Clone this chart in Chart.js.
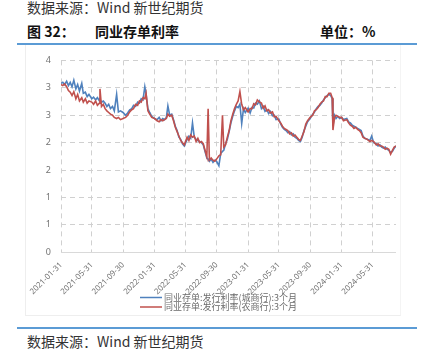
<!DOCTYPE html>
<html>
<head>
<meta charset="utf-8">
<script src="https://cdn.jsdelivr.net/npm/chart.js@4/dist/chart.umd.min.js"></script>
<style>
  html, body { margin: 0; padding: 0; background: #fff; }
  #wrap { position: relative; width: 422px; height: 359px; overflow: hidden; font-family: "Noto Sans CJK SC", sans-serif; }
  .t { position: absolute; white-space: nowrap; line-height: 1; }
  .src { font-size: 14px; color: #333; }
  .hd { font-size: 14px; font-weight: bold; color: #111; }
  .rule { position: absolute; left: 17px; width: 400px; height: 2px; background: #5b9bd5; }
  #frame { position: absolute; left: 25px; top: 45px; width: 376px; height: 271px; border-left: 1px solid #eeeeee; border-bottom: 1px solid #eeeeee; border-right: 1px solid #f4f4f4; box-sizing: border-box; }
  canvas { position: absolute; left: 0; top: 45px; }
</style>
</head>
<body>
<div id="wrap">
  <div class="t src" style="left:27px; top:0px;">数据来源：Wind 新世纪期货</div>
  <div class="t hd" style="left:27px; top:24px;">图 32：</div>
  <div class="t hd" style="left:95px; top:24px;">同业存单利率</div>
  <div class="t hd" style="left:320px; top:24px;">单位：%</div>
  <div class="rule" style="top:43px;"></div>
  <div id="frame"></div>
  <canvas id="c" width="422" height="272"></canvas>
  <div class="rule" style="top:327px;"></div>
  <div class="t src" style="left:27px; top:334px;">数据来源：Wind 新世纪期货</div>
</div>
<script>
// ---- data ----
const seriesNames = ['同业存单:发行利率(城商行):3个月', '同业存单:发行利率(农商行):3个月'];
const tickLabels = ['2021-01-31','2021-05-31','2021-09-30','2022-01-31','2022-05-31','2022-09-30','2023-01-31','2023-05-31','2023-09-30','2024-01-31','2024-05-31'];
const dates = [
'2021-01-31','2021-02-07','2021-02-14','2021-02-22','2021-03-01','2021-03-08','2021-03-15','2021-03-22','2021-03-30','2021-04-06','2021-04-13','2021-04-22','2021-04-28','2021-05-06','2021-05-13','2021-05-20','2021-05-31',
'2021-06-07','2021-06-15','2021-06-22','2021-06-30','2021-07-02','2021-07-08','2021-07-15','2021-07-22','2021-07-29','2021-08-05','2021-08-12','2021-08-20','2021-08-27','2021-09-05','2021-09-12','2021-09-20','2021-09-30',
'2021-10-10','2021-10-18','2021-10-26','2021-11-03','2021-11-10','2021-11-18','2021-11-26','2021-12-03','2021-12-10','2021-12-17','2021-12-24','2021-12-29',
'2022-01-05','2022-01-12','2022-01-20','2022-01-31','2022-02-10','2022-02-18','2022-02-25','2022-03-04','2022-03-11','2022-03-18','2022-03-24','2022-03-31','2022-04-08','2022-04-15','2022-04-22','2022-04-29','2022-05-06','2022-05-13','2022-05-20','2022-05-27',
'2022-06-07','2022-06-14','2022-06-21','2022-06-28','2022-07-05','2022-07-12','2022-07-19','2022-07-26','2022-08-02','2022-08-09','2022-08-16','2022-08-23','2022-08-28','2022-09-02','2022-09-09','2022-09-16','2022-09-23','2022-09-30',
'2022-10-09','2022-10-16','2022-10-23','2022-10-28','2022-11-04','2022-11-11','2022-11-18','2022-11-25','2022-12-02','2022-12-09','2022-12-16','2022-12-23','2022-12-30',
'2023-01-06','2023-01-13','2023-01-20','2023-01-31','2023-02-08','2023-02-15','2023-02-22','2023-03-01','2023-03-08','2023-03-16','2023-03-24','2023-03-31','2023-04-07','2023-04-14','2023-04-21','2023-04-28','2023-05-06','2023-05-13','2023-05-20','2023-05-31',
'2023-06-07','2023-06-14','2023-06-21','2023-06-28','2023-07-05','2023-07-12','2023-07-19','2023-07-26','2023-08-02','2023-08-09','2023-08-16','2023-08-23','2023-08-30','2023-09-06','2023-09-13','2023-09-20','2023-09-30',
'2023-10-10','2023-10-17','2023-10-24','2023-10-31','2023-11-07','2023-11-14','2023-11-21','2023-11-28','2023-12-05','2023-12-12','2023-12-19','2023-12-25','2023-12-28',
'2024-01-03','2024-01-09','2024-01-16','2024-01-23','2024-01-31','2024-02-07','2024-02-20','2024-02-27','2024-03-05','2024-03-12','2024-03-19','2024-03-26','2024-04-02','2024-04-09','2024-04-16','2024-04-23','2024-04-30','2024-05-10','2024-05-20','2024-05-27',
'2024-06-04','2024-06-14','2024-06-21','2024-06-28','2024-07-05','2024-07-12','2024-07-19','2024-07-26','2024-08-02','2024-08-09','2024-08-16','2024-08-23','2024-08-30'
];
const cityBank = [
3.08,3.10,3.06,3.12,3.04,3.10,3.02,3.14,2.98,3.06,2.94,3.08,2.90,2.92,2.84,2.88,2.80,
2.83,2.78,2.82,2.76,2.78,2.74,2.76,2.72,2.66,2.70,2.62,2.66,2.58,2.88,2.56,2.58,2.55,
2.50,2.54,2.60,2.62,2.68,2.66,2.74,2.72,2.80,2.78,3.02,2.88,
2.62,2.55,2.48,2.44,2.42,2.46,2.40,2.44,2.42,2.46,2.67,2.50,2.52,2.42,2.30,2.22,2.10,2.06,1.98,1.94,
2.06,2.12,2.08,2.36,2.10,2.06,2.04,2.02,2.00,1.96,1.84,1.72,1.70,1.66,1.70,1.64,1.68,1.66,
1.58,1.80,1.84,1.86,1.98,2.06,2.20,2.36,2.48,2.58,2.66,2.64,2.70,
2.35,2.62,2.55,2.63,2.54,2.64,2.63,2.72,2.70,2.76,2.62,2.66,2.57,2.60,2.53,2.57,2.49,2.50,2.42,2.43,
2.34,2.28,2.24,2.22,2.18,2.20,2.14,2.16,2.10,2.08,2.04,2.02,2.10,2.22,2.30,2.38,2.44,
2.52,2.56,2.62,2.66,2.68,2.72,2.78,2.82,2.86,2.88,2.86,2.80,2.30,
2.50,2.44,2.48,2.44,2.46,2.42,2.44,2.38,2.36,2.32,2.30,2.28,2.26,2.24,2.22,2.12,2.08,2.06,2.04,2.12,
2.00,1.98,1.94,1.96,1.92,1.90,1.92,1.88,1.86,1.82,1.84,1.90,1.94
];
const ruralBank = [
3.06,3.04,3.07,3.02,2.95,2.92,2.86,2.93,2.80,2.88,2.76,2.82,2.74,2.80,2.72,2.76,2.74,
2.70,2.76,2.68,2.72,2.98,2.66,2.70,2.62,2.58,2.55,2.52,2.50,2.46,2.44,2.46,2.42,2.44,
2.46,2.50,2.56,2.60,2.62,2.70,2.68,2.76,2.74,2.82,2.80,2.90,
2.58,2.52,2.46,2.44,2.40,2.38,2.42,2.40,2.42,2.44,2.52,2.48,2.50,2.40,2.28,2.20,2.12,2.04,2.00,1.96,
2.10,2.04,2.14,2.10,2.12,2.02,2.08,2.00,2.02,1.98,1.86,1.74,2.62,1.68,1.72,1.68,1.66,1.70,
1.76,1.78,2.50,1.92,1.96,2.10,2.22,2.40,2.52,2.62,2.70,2.76,2.93,
2.70,2.60,2.64,2.56,2.62,2.62,2.71,2.69,2.78,2.74,2.72,2.63,2.67,2.58,2.60,2.54,2.56,2.47,2.48,2.40,
2.36,2.30,2.26,2.24,2.22,2.16,2.18,2.12,2.14,2.10,2.06,2.04,2.12,2.20,2.34,2.40,2.46,
2.50,2.58,2.60,2.64,2.70,2.74,2.76,2.84,2.84,2.90,2.90,2.82,2.23,
2.46,2.50,2.48,2.46,2.46,2.40,2.42,2.36,2.32,2.30,2.26,2.28,2.24,2.22,2.18,2.10,2.08,2.06,2.02,2.04,
2.02,1.96,1.98,1.94,1.94,1.92,1.88,1.90,1.88,1.79,1.86,1.92,1.94
];
const yMin = 0, yMax = 3.5, yStep = 0.5;

// ---- helpers ----
const DAY = 86400000;
const origin = Date.parse(dates[0] + 'T00:00:00Z');
const dayOf = s => Math.round((Date.parse(s + 'T00:00:00Z') - origin) / DAY);
const toPoints = vals => dates.map((d, i) => ({ x: dayOf(d), y: vals[i] }));

const legendPlugin = {
  id: 'stackedLegend',
  afterDraw(chart) {
    const ctx = chart.ctx;
    ctx.save();
    ctx.font = '9px "Noto Sans CJK SC"';
    ctx.textBaseline = 'middle';
    ctx.textAlign = 'left';
    chart.data.datasets.forEach((ds, i) => {
      const y = 252.5 + i * 9.5;
      ctx.strokeStyle = ds.borderColor;
      ctx.lineWidth = 1.5;
      ctx.beginPath(); ctx.moveTo(140, y); ctx.lineTo(162, y); ctx.stroke();
      ctx.fillStyle = '#6b6b6b';
      ctx.fillText(ds.label, 164, y);
    });
    ctx.restore();
  }
};

new Chart(document.getElementById('c'), {
  type: 'line',
  data: {
    datasets: [
      { label: seriesNames[0], data: toPoints(cityBank), borderColor: '#4f81bd', borderWidth: 1.6, pointRadius: 0, tension: 0, order: 1 },
      { label: seriesNames[1], data: toPoints(ruralBank), borderColor: '#c0504d', borderWidth: 1.6, pointRadius: 0, tension: 0, order: 0 }
    ]
  },
  options: {
    responsive: false,
    devicePixelRatio: 1,
    animation: false,
    layout: { padding: { left: 21, right: 26, top: 7.7, bottom: 4.7 } },
    plugins: { legend: { display: false }, tooltip: { enabled: false } },
    scales: {
      x: {
        type: 'linear',
        min: 0,
        max: dayOf(dates[dates.length - 1]),
        afterBuildTicks: s => { s.ticks = tickLabels.map(t => ({ value: dayOf(t) })); },
        afterFit: s => { s.height = 60; },
        ticks: {
          autoSkip: false, minRotation: 45, maxRotation: 45, padding: 8,
          color: '#737373', font: { size: 8, family: 'Noto Sans' },
          callback: (v, i) => tickLabels[i]
        },
        grid: { color: '#d0d0d0', lineWidth: 1, drawTicks: false },
        border: { display: false, dash: [5, 4] }
      },
      y: {
        min: yMin, max: yMax,
        afterFit: s => { s.width = 40; },
        ticks: {
          stepSize: yStep, padding: 10, color: '#737373', font: { size: 9, family: 'Noto Sans' },
          callback: v => String(Math.round(v))
        },
        grid: { color: ctx => ctx.tick && ctx.tick.value === 0 ? '#d9d9d9' : '#d0d0d0', lineWidth: 1, drawTicks: false },
        border: { display: false, dash: ctx => (ctx.tick && ctx.tick.value === 0) ? [] : [5, 4] }
      }
    }
  },
  plugins: [legendPlugin]
});
</script>
</body>
</html>
